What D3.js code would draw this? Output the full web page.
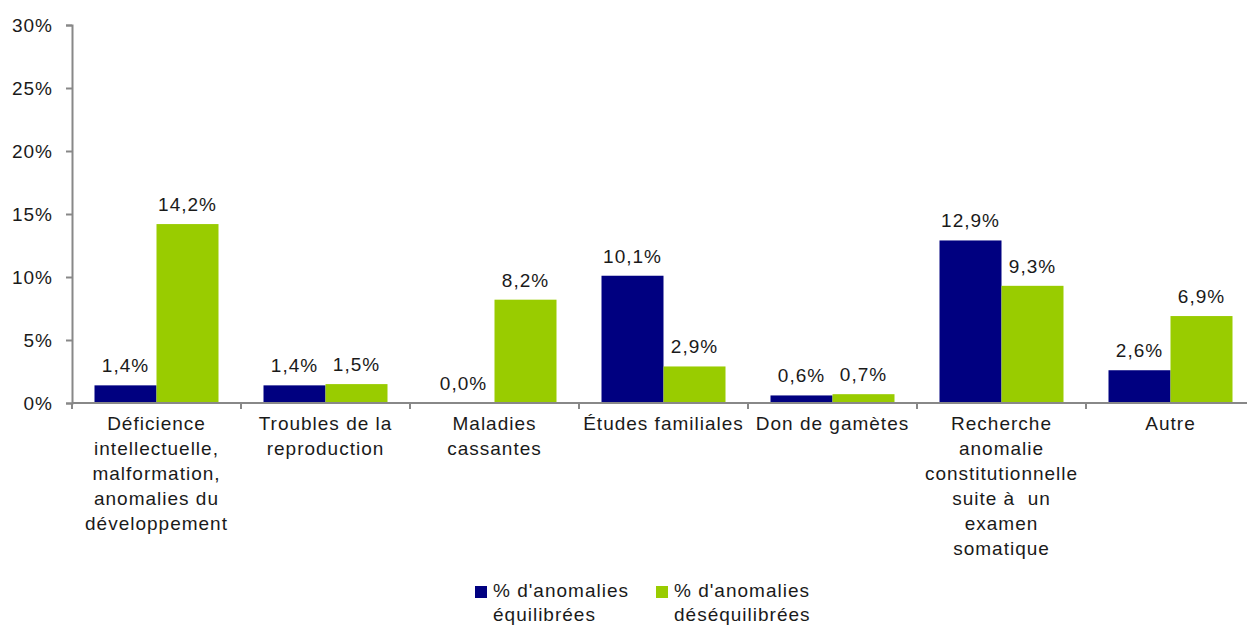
<!DOCTYPE html>
<html>
	<head>
		<meta charset="UTF-8">
		<title>Anomalies équilibrées / déséquilibrées</title>
		<script type="text/javascript" src="https://cdn.jsdelivr.net/npm/d3@7"></script>
		<style>
			body { margin: 0; background: #fff; }
			text { font-family: "Liberation Sans", Arial, sans-serif; fill: #1a1a1a; letter-spacing: 1px; }
		</style>
	</head>
	<body>
		<script type="text/javascript">
			// données
			var categories = [
				"Déficience|intellectuelle,|malformation,|anomalies du|développement",
				"Troubles de la|reproduction",
				"Maladies|cassantes",
				"Études familiales",
				"Don de gamètes",
				"Recherche|anomalie|constitutionnelle|suite à  un|examen|somatique",
				"Autre"
			];
			var equilibrees = [1.4, 1.4, 0.0, 10.1, 0.6, 12.9, 2.6];
			var desequilibrees = [14.2, 1.5, 8.2, 2.9, 0.7, 9.3, 6.9];
			var seriesNames = ["% d'anomalies|équilibrées", "% d'anomalies|déséquilibrées"];
			var seriesColors = ["#000080", "#99cc00"];
			var yTicks = [0, 5, 10, 15, 20, 25, 30];

			var W = 1247, H = 626;
			var svg = d3.select('body')
				.append('svg')
				.attr("width", W)
				.attr("height", H);

			var x0 = d3.scaleBand()
				.domain(d3.range(categories.length))
				.range([72, 1255]);
			var x1 = d3.scaleBand()
				.domain([0, 1])
				.range([22.5, x0.bandwidth() - 22.5]);
			var y = d3.scaleLinear()
				.domain([0, 30])
				.range([403, 25]);

			var fmt = function(v){ return v.toFixed(1).replace(".", ",") + "%"; };

			// axe Y
			var yAxis = svg.append("g")
				.attr("transform", "translate(72,0)")
				.call(d3.axisLeft(y).tickValues(yTicks).tickSize(6).tickPadding(13)
					.tickFormat(function(d){ return d + "%"; }));
			yAxis.select(".domain").attr("stroke", "#888").attr("stroke-width", 2);
			yAxis.selectAll(".tick line").attr("stroke", "#888").attr("stroke-width", 2);
			yAxis.selectAll(".tick text")
				.attr("font-size", 19)
				.style("font-family", '"Liberation Sans", Arial, sans-serif')
				.attr("fill", "#1a1a1a");

			// barres
			var data = categories.map(function(c, i){
				return { i: i, vals: [equilibrees[i], desequilibrees[i]] };
			});
			var groups = svg.selectAll("g.cat")
				.data(data)
				.enter()
				.append("g")
				.attr("class", "cat")
				.attr("transform", function(d){ return "translate(" + x0(d.i) + ",0)"; });

			groups.selectAll("rect")
				.data(function(d){ return d.vals; })
				.enter()
				.append("rect")
				.attr("x", function(d, j){ return x1(j); })
				.attr("y", function(d){ return y(d); })
				.attr("width", x1.bandwidth())
				.attr("height", function(d){ return y(0) - y(d); })
				.attr("fill", function(d, j){ return seriesColors[j]; });

			groups.selectAll("text.val")
				.data(function(d){ return d.vals; })
				.enter()
				.append("text")
				.attr("class", "val")
				.attr("x", function(d, j){ return x1(j) + x1.bandwidth() / 2; })
				.attr("y", function(d){ return y(d) - 13; })
				.attr("text-anchor", "middle")
				.attr("font-size", 19)
				.text(fmt);

			// axe X
			var xAxis = svg.append("g").attr("transform", "translate(0,403)");
			xAxis.append("line")
				.attr("x1", 72).attr("x2", 1255)
				.attr("stroke", "#888").attr("stroke-width", 2);
			xAxis.selectAll("line.tk")
				.data(d3.range(categories.length + 1))
				.enter()
				.append("line")
				.attr("class", "tk")
				.attr("x1", function(d){ return 72 + d * x0.bandwidth(); })
				.attr("x2", function(d){ return 72 + d * x0.bandwidth(); })
				.attr("y1", 0).attr("y2", 6)
				.attr("stroke", "#888").attr("stroke-width", 2);

			var labels = xAxis.selectAll("text.cat")
				.data(categories)
				.enter()
				.append("text")
				.attr("class", "cat")
				.attr("text-anchor", "middle")
				.attr("font-size", 19)
				.style("white-space", "pre")
				.attr("transform", function(d, i){ return "translate(" + (x0(i) + x0.bandwidth() / 2) + ",27)"; });
			labels.selectAll("tspan")
				.data(function(d){ return d.split("|"); })
				.enter()
				.append("tspan")
				.attr("x", 0)
				.attr("dy", function(d, k){ return k === 0 ? 0 : 25; })
				.text(function(d){ return d; });

			// légende
			var legX = [475, 656];
			var leg = svg.selectAll("g.leg")
				.data(seriesNames)
				.enter()
				.append("g")
				.attr("class", "leg")
				.attr("transform", function(d, i){ return "translate(" + legX[i] + ",586)"; });
			leg.append("rect")
				.attr("width", 12).attr("height", 12)
				.attr("fill", function(d, i){ return seriesColors[i]; });
			var lt = leg.append("text")
				.attr("x", 18)
				.attr("y", 11)
				.attr("font-size", 19);
			lt.selectAll("tspan")
				.data(function(d){ return d.split("|"); })
				.enter()
				.append("tspan")
				.attr("x", 18)
				.attr("dy", function(d, k){ return k === 0 ? 0 : 24; })
				.text(function(d){ return d; });
		</script>
	</body>
</html>
